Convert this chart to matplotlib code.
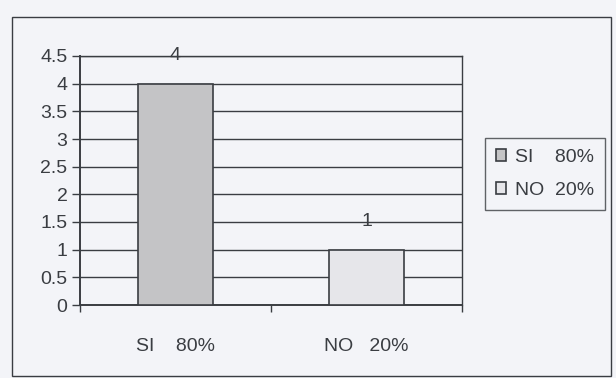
import matplotlib.pyplot as plt
from matplotlib.patches import Rectangle, Patch

categories = ["SI    80%", "NO   20%"]
values = [4, 1]
legend_labels = ["SI    80%", "NO  20%"]
bar_colors = ["#c4c4c6", "#e6e6ea"]
y_ticks = [0, 0.5, 1, 1.5, 2, 2.5, 3, 3.5, 4, 4.5]
y_tick_labels = ["0", "0.5", "1", "1.5", "2", "2.5", "3", "3.5", "4", "4.5"]

bg = "#f3f4f8"
ink = "#3a3d42"

plt.rcParams['font.family'] = ['Liberation Sans', 'DejaVu Sans']

fig = plt.figure(figsize=(6.16, 3.78), dpi=100, facecolor=bg)
ax = fig.add_axes([80/616, 1 - 305/378, 382/616, 249/378])
ax.set_facecolor(bg)

x = list(range(len(categories)))
ax.bar(x, values, width=0.39, color=bar_colors, edgecolor=ink, linewidth=1.2, zorder=3)

for xi, v in zip(x, values):
    ax.text(xi, v + 0.5, str(v), ha="center", va="center", fontsize=14, color=ink, zorder=4)

ax.set_xlim(-0.5, 1.5)
ax.set_ylim(0, 4.5)
ax.set_yticks(y_ticks)
ax.set_yticklabels(y_tick_labels, fontsize=14, color=ink)
ax.yaxis.grid(True, color=ink, linewidth=1.0, zorder=0)
ax.set_axisbelow(True)

ax.set_xticks(x)
ax.set_xticklabels(categories, fontsize=14, color=ink)
ax.tick_params(axis="x", which="major", length=0, pad=24)
ax.set_xticks([-0.5, 0.5, 1.5], minor=True)
ax.tick_params(axis="x", which="minor", length=5, color=ink, width=1)
ax.tick_params(axis="y", length=6, color=ink, width=1, pad=3)

for s in ["left", "bottom", "right", "top"]:
    ax.spines[s].set_color(ink)
    ax.spines[s].set_linewidth(1.0)
ax.spines["left"].set_linewidth(1.4)
ax.spines["bottom"].set_linewidth(1.4)

handles = [Patch(facecolor=c, edgecolor=ink, linewidth=1.2) for c in bar_colors]
leg = fig.legend(handles, legend_labels, loc="upper left",
                 bbox_to_anchor=(485/616, 1 - 138/378), fontsize=14,
                 handlelength=0.55, handleheight=0.55, handletextpad=0.45,
                 labelspacing=0.85, borderpad=0.55, borderaxespad=0,
                 fancybox=False,
                 frameon=True, facecolor=bg, edgecolor=ink, labelcolor=ink)
leg.get_frame().set_linewidth(1.0)

fig.patches.append(Rectangle((12/616, 1 - 376/378), 599/616, 359/378,
                             transform=fig.transFigure, fill=False,
                             edgecolor=ink, linewidth=1.0))

fig.savefig("out.png", dpi=100, facecolor=bg)
